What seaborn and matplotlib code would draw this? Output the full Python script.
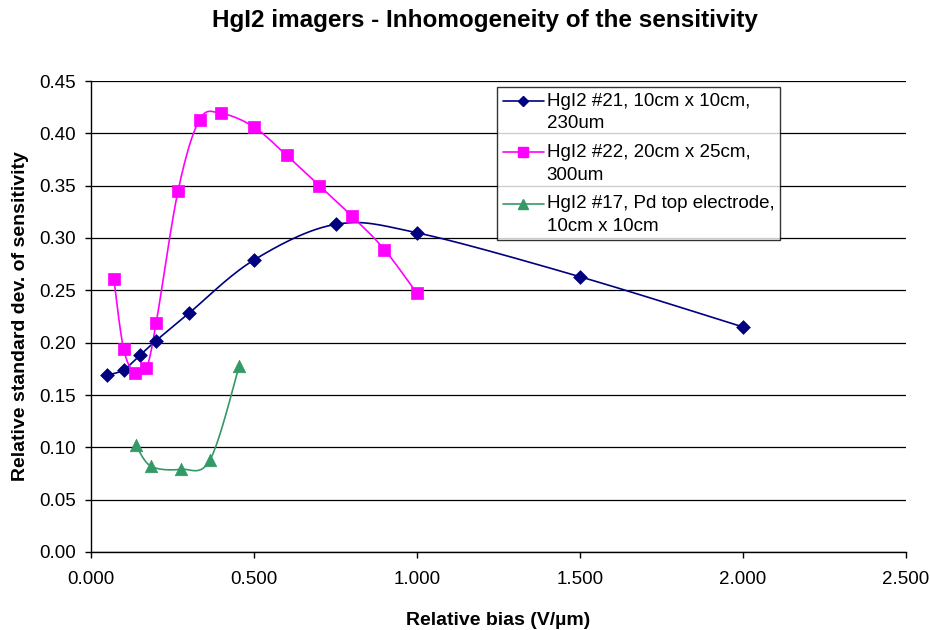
import numpy as np
import pandas as pd
import matplotlib
matplotlib.use("Agg")
import matplotlib.pyplot as plt
import seaborn as sns
from matplotlib.lines import Line2D
from matplotlib.legend_handler import HandlerLine2D

# ---- data ----
x21 = [0.05, 0.10, 0.15, 0.20, 0.30, 0.50, 0.75, 1.00, 1.50, 2.00]
y21 = [0.169, 0.174, 0.188, 0.202, 0.228, 0.279, 0.313, 0.305, 0.263, 0.215]

x22 = [0.07, 0.10, 0.135, 0.17, 0.20, 0.267, 0.333, 0.40, 0.50, 0.60, 0.70, 0.80, 0.90, 1.00]
y22 = [0.261, 0.194, 0.171, 0.176, 0.219, 0.345, 0.413, 0.419, 0.406, 0.379, 0.350, 0.321, 0.289, 0.247]

x17 = [0.138, 0.184, 0.276, 0.365, 0.455]
y17 = [0.102, 0.082, 0.079, 0.088, 0.178]

labels = ["HgI2 #21, 10cm x 10cm,\n230um",
          "HgI2 #22, 20cm x 25cm,\n300um",
          "HgI2 #17, Pd top electrode,\n10cm x 10cm"]
colors = ["#000080", "#FF00FF", "#339966"]
markers = ["D", "s", "^"]
msizes = [7, 9, 9]


def smooth(xs, ys, n=30):
    """Excel-like smoothed line (Catmull-Rom Bezier)."""
    p = np.column_stack([xs, ys]).astype(float)
    out = []
    for i in range(len(p) - 1):
        p0 = p[i - 1] if i > 0 else p[i]
        p1, p2 = p[i], p[i + 1]
        p3 = p[i + 2] if i + 2 < len(p) else p[i + 1]
        c1 = p1 + (p2 - p0) / 6.0
        c2 = p2 - (p3 - p1) / 6.0
        t = np.linspace(0, 1, n)[:, None]
        seg = ((1 - t) ** 3) * p1 + 3 * ((1 - t) ** 2) * t * c1 + 3 * (1 - t) * t ** 2 * c2 + t ** 3 * p2
        out.append(seg if i == 0 else seg[1:])
    s = np.vstack(out)
    return s[:, 0], s[:, 1]


class UpHandler(HandlerLine2D):
    """Aligns the legend handle with the first text line."""
    def __init__(self, off, **kw):
        super().__init__(**kw)
        self.off = off

    def create_artists(self, legend, orig_handle, xdescent, ydescent, width, height, fontsize, trans):
        return super().create_artists(legend, orig_handle, xdescent, ydescent - 2 * self.off,
                                      width, height, fontsize, trans)


sns.set_theme(style="white")
plt.rcParams['font.family'] = ['Liberation Sans', 'DejaVu Sans']
plt.rcParams['text.color'] = 'black'
plt.rcParams['axes.labelcolor'] = 'black'
plt.rcParams['xtick.color'] = 'black'
plt.rcParams['ytick.color'] = 'black'

fig = plt.figure(figsize=(9.3, 6.3), dpi=100)
ax = fig.add_axes([91 / 930, 1 - 552 / 630, (906 - 91) / 930, (552 - 81) / 630])

series = [(x21, y21), (x22, y22), (x17, y17)]
for (xs, ys), lab, c, m, ms in zip(series, labels, colors, markers, msizes):
    sx, sy = smooth(xs, ys)
    sns.lineplot(x=sx, y=sy, ax=ax, color=c, lw=1.2, sort=False, estimator=None, zorder=3)
    df = pd.DataFrame({"x": xs, "y": ys})
    sns.scatterplot(data=df, x="x", y="y", ax=ax, color=c, marker=m, s=ms ** 2,
                    edgecolor=c, linewidth=0.5, zorder=4)

ax.set_xlim(0, 2.5)
ax.set_ylim(0, 0.45)
ax.set_xticks(np.arange(0, 2.51, 0.5))
ax.set_yticks(np.arange(0, 0.451, 0.05))
ax.set_xticklabels([f"{v:.3f}" for v in np.arange(0, 2.51, 0.5)], fontsize=13.5)
ax.set_yticklabels([f"{v:.2f}" for v in np.arange(0, 0.451, 0.05)], fontsize=13.5)
ax.yaxis.grid(True, color="black", lw=0.9)
ax.xaxis.grid(False)
for s in ["top", "right"]:
    ax.spines[s].set_visible(False)
for s in ["left", "bottom"]:
    ax.spines[s].set_color("black")
    ax.spines[s].set_linewidth(1.0)
ax.tick_params(axis="both", direction="out", length=4, width=1, color="black",
               bottom=True, left=True, labelcolor="black")
ax.tick_params(axis="x", pad=10)
ax.tick_params(axis="y", pad=7)

ax.set_xlabel("Relative bias (V/\u00b5m)", fontsize=14, fontweight="bold", labelpad=17)
ax.set_ylabel("Relative standard dev. of sensitivity", fontsize=14, fontweight="bold", labelpad=7)
fig.text(485 / 930, 1 - 20 / 630, "HgI2 imagers - Inhomogeneity of the sensitivity",
         ha="center", va="center", fontsize=17.5, fontweight="bold")

handles = [Line2D([0], [0], color=c, marker=m, markersize=ms * 0.8, lw=1.2, markeredgecolor=c)
           for c, m, ms in zip(colors, markers, msizes)]
leg = ax.legend(handles, labels, loc="upper left", bbox_to_anchor=((497 - 91) / 815, 1 - (87 - 81) / 471),
                borderaxespad=0, fontsize=13.5, frameon=True, fancybox=False, edgecolor="black",
                handlelength=2.2, borderpad=0.3, labelspacing=0.6, handletextpad=0.15,
                handler_map={Line2D: UpHandler(8)})
for t in leg.get_texts():
    t.set_linespacing(1.45)
leg.get_frame().set_linewidth(1.0)

fig.savefig("out.png", dpi=100)
